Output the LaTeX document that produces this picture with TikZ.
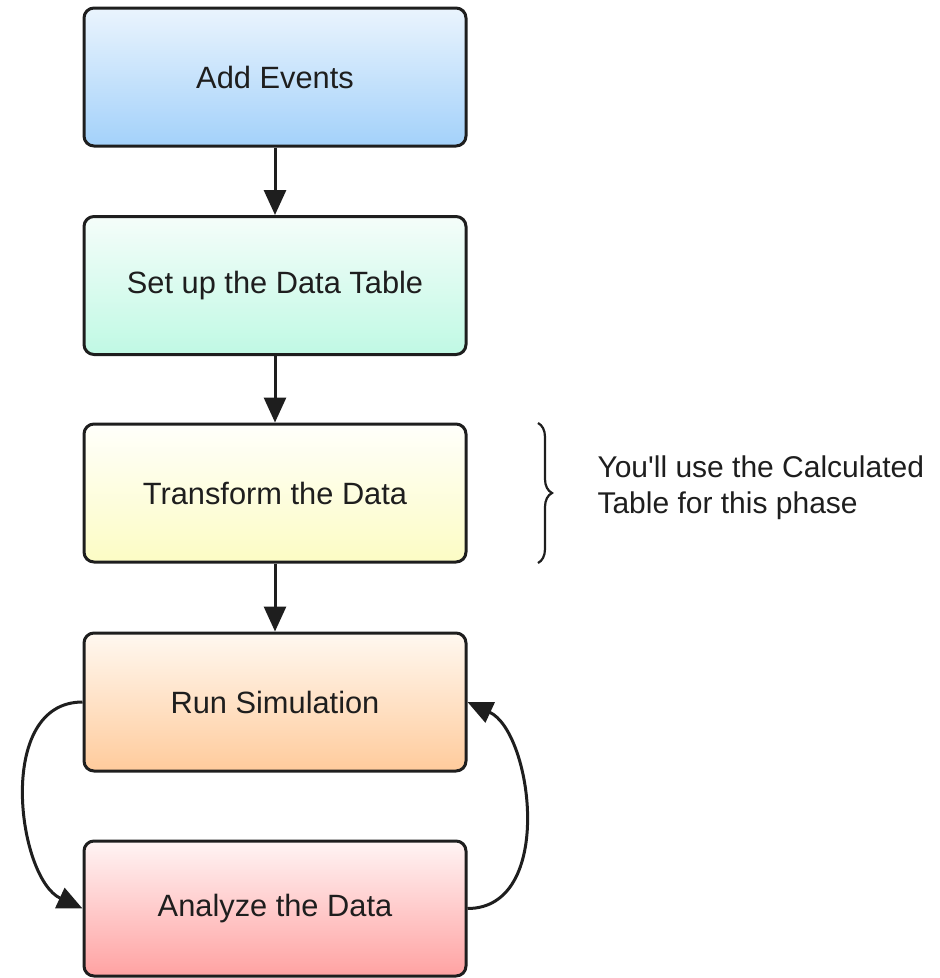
\documentclass[tikz,border=0pt]{standalone}
\usepackage{fontspec}
\setmainfont{Liberation Sans}[Ligatures=TeXOff]
\usetikzlibrary{arrows.meta,decorations.pathreplacing}
\definecolor{edge}{HTML}{1E1E1E}
\definecolor{txt}{HTML}{1E1E1E}
\definecolor{aTop}{HTML}{EAF4FD}\definecolor{aBot}{HTML}{A3D1FA}
\definecolor{bTop}{HTML}{F5FDFA}\definecolor{bBot}{HTML}{C0F9E4}
\definecolor{cTop}{HTML}{FFFFFB}\definecolor{cBot}{HTML}{FCFCC4}
\definecolor{dTop}{HTML}{FFF8F0}\definecolor{dBot}{HTML}{FFCB9C}
\definecolor{eTop}{HTML}{FFF4F4}\definecolor{eBot}{HTML}{FFA2A2}
\begin{document}
\begin{tikzpicture}[x=1pt,y=-1pt,
  stepbox/.style={draw=edge, line width=3pt, rounded corners=10pt,
    minimum width=382pt, minimum height=138pt, inner sep=0pt,
    font=\fontsize{30.8}{37}\selectfont, text=txt},
  conn/.style={draw=edge, line width=3pt, -{Triangle[length=25pt,width=22pt]}},
]
\useasboundingbox (0,0) rectangle (940,978);
\node[stepbox, top color=aTop, bottom color=aBot] (b1) at (275,77) {Add Events};
\node[stepbox, top color=bTop, bottom color=bBot] (b2) at (275,285.5) {Set up the Data Table};
\node[stepbox, top color=cTop, bottom color=cBot] (b3) at (275,493) {Transform the Data};
\node[stepbox, top color=dTop, bottom color=dBot] (b4) at (275,702) {Run Simulation};
\node[stepbox, minimum height=135pt, top color=eTop, bottom color=eBot] (b5) at (275,908.5) {Analyze the Data};
\draw[conn] (b1.south) -- (b2.north);
\draw[conn] (b2.south) -- (b3.north);
\draw[conn] (b3.south) -- (b4.north);
\draw[conn] (b4.west) .. controls +(-88,0) and +(-65,-30) .. (b5.west);
\draw[conn] (b5.east) .. controls +(88,0) and +(65,30) .. (b4.east);
\coordinate (bt) at (538,423);
\coordinate (bb) at (538,563);
\draw[draw=edge, line width=2.2pt, decorate, decoration={brace, amplitude=14pt}] (bt) -- (bb);
\node[anchor=west, align=left, font=\fontsize{30}{36}\selectfont, text=txt] (note) at (594,488) {You'll use the Calculated\\Table for this phase};
\end{tikzpicture}
\end{document}
